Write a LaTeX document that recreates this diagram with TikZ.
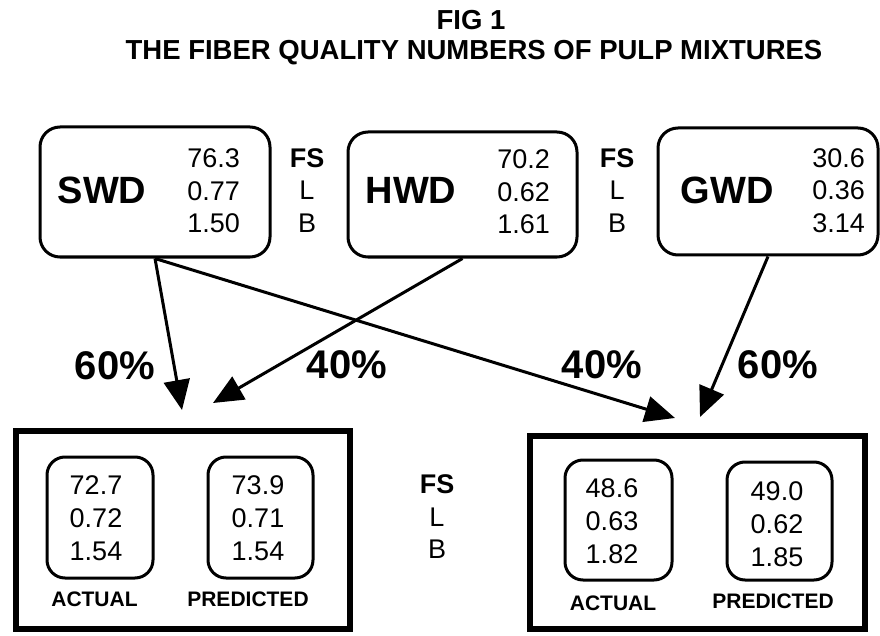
\documentclass[tikz,border=0pt]{standalone}
\usepackage{fontspec}
\setmainfont{Liberation Sans}
\usetikzlibrary{arrows.meta}
\begin{document}
\begin{tikzpicture}[x=1pt,y=-1pt,
  srcbox/.style={draw, line width=3pt, rounded corners=20pt, inner sep=0pt},
  mixframe/.style={draw, line width=5.5pt, inner sep=0pt},
  valbox/.style={draw, line width=3pt, rounded corners=18pt, inner sep=0pt},
  nums/.style={font=\fontsize{27}{32.5}\selectfont, align=right, inner sep=0pt},
  numsc/.style={font=\fontsize{27}{33}\selectfont, align=center, inner sep=0pt},
  pulpname/.style={font=\fontsize{38}{40}\selectfont\bfseries, inner sep=0pt},
  pct/.style={font=\fontsize{40}{44}\selectfont\bfseries, inner sep=0pt},
  lbl/.style={font=\fontsize{21}{24}\selectfont\bfseries, inner sep=0pt},
  keycol/.style={font=\fontsize{27}{32.5}\selectfont, align=center, inner sep=0pt},
  titletext/.style={font=\fontsize{27.5}{33}\selectfont\bfseries, inner sep=0pt},
  arr/.style={line width=3pt, -{Triangle[length=30pt,width=26pt]}}
]
\useasboundingbox (0,0) rectangle (880,636);

% title
\node[titletext] (fig) at (471,20) {FIG 1};
\node[titletext] (title) at (474,53) {THE FIBER QUALITY NUMBERS OF PULP MIXTURES};

% source boxes
\node[srcbox, minimum width=230pt, minimum height=130pt] (swd) at (155,192) {};
\node[pulpname] (swdn) at (102,190) {SWD};
\node[nums, anchor=east] (swdv) at (240,191) {76.3\\0.77\\1.50};

\node[srcbox, minimum width=229pt, minimum height=125pt] (hwd) at (462.5,194.5) {};
\node[pulpname] (hwdn) at (411,190) {HWD};
\node[nums, anchor=east] (hwdv) at (550,192) {70.2\\0.62\\1.61};

\node[srcbox, minimum width=220pt, minimum height=127pt] (gwd) at (768,191.5) {};
\node[pulpname] (gwdn) at (727,190) {GWD};
\node[nums, anchor=east] (gwdv) at (865,190.5) {30.6\\0.36\\3.14};

\node[keycol] (key1) at (307,190.5) {\textbf{FS}\\L\\B};
\node[keycol] (key2) at (617,190.5) {\textbf{FS}\\L\\B};

% arrow targets
\coordinate (t1) at (182,410);
\coordinate (t2) at (213,403);
\coordinate (t3) at (675,418);
\coordinate (t4) at (700,417);

\draw[arr] (swd.south) -- (t1);
\draw[arr] (hwd.south) -- (t2);
\draw[arr] (swd.south) -- (t3);
\draw[arr] (gwd.south) -- (t4);

% percentages
\node[pct] (p1) at (115,366) {60\%};
\node[pct] (p2) at (347,365) {40\%};
\node[pct] (p3) at (602,365) {40\%};
\node[pct] (p4) at (778,365) {60\%};

% mixture frames
\node[mixframe, minimum width=334pt, minimum height=198pt] (mixl) at (183,530) {};
\node[mixframe, minimum width=335pt, minimum height=193pt] (mixr) at (697.5,532.5) {};

% left mixture values
\node[valbox, minimum width=106pt, minimum height=121pt] (la) at (100,517.5) {};
\node[numsc] (lav) at (96,518) {72.7\\0.72\\1.54};
\node[lbl] (lal) at (94.5,599) {ACTUAL};
\node[valbox, minimum width=105pt, minimum height=121pt] (lp) at (260.5,517.5) {};
\node[numsc] (lpv) at (258,518) {73.9\\0.71\\1.54};
\node[lbl] (lpl) at (248,599) {PREDICTED};

% middle key
\node[keycol] (key3) at (437,517) {\textbf{FS}\\L\\B};

% right mixture values
\node[valbox, minimum width=107pt, minimum height=120pt] (ra) at (618.5,520) {};
\node[numsc] (rav) at (612,521) {48.6\\0.63\\1.82};
\node[lbl] (ral) at (613,603) {ACTUAL};
\node[valbox, minimum width=105pt, minimum height=118pt] (rp) at (779.5,521) {};
\node[numsc] (rpv) at (777,524) {49.0\\0.62\\1.85};
\node[lbl] (rpl) at (773,601) {PREDICTED};
\end{tikzpicture}
\end{document}
